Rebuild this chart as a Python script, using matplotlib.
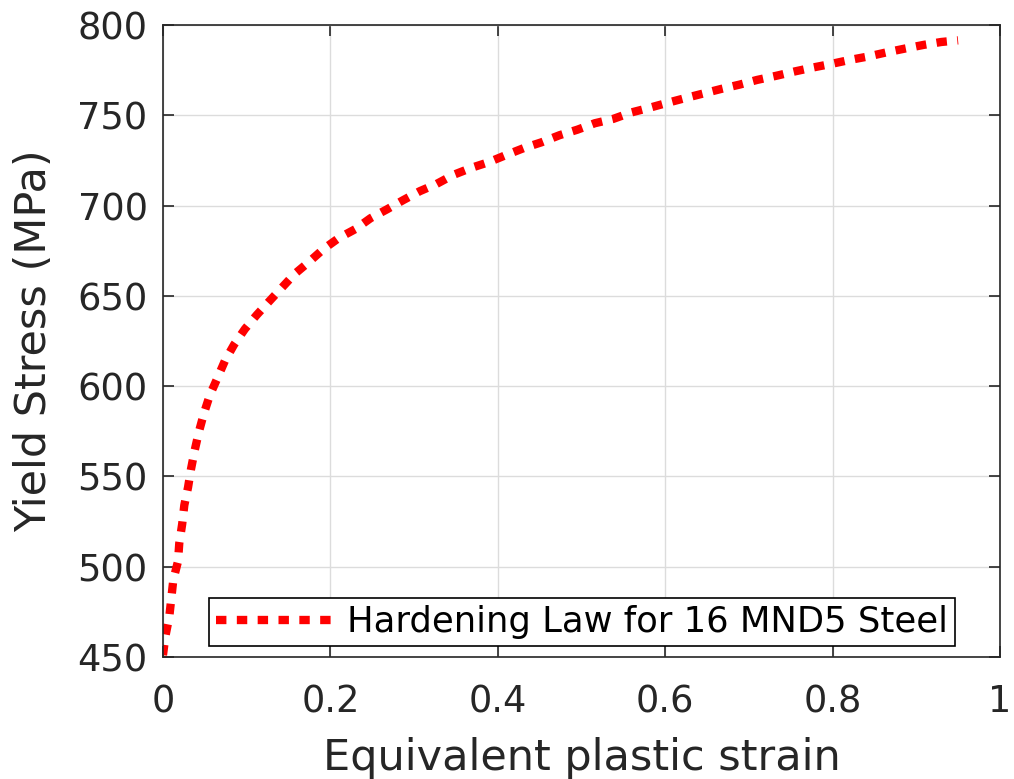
import matplotlib
matplotlib.use('Agg')
import matplotlib.pyplot as plt

# points
strain = [0.0, 0.003, 0.0076, 0.010, 0.0124, 0.018, 0.0195, 0.023, 0.0255, 0.030,
          0.0335, 0.038, 0.043, 0.049, 0.056, 0.065, 0.074, 0.085, 0.098, 0.112,
          0.127, 0.143, 0.157, 0.175, 0.192, 0.21, 0.23, 0.248, 0.268, 0.287,
          0.307, 0.327, 0.347, 0.369, 0.389, 0.41, 0.432, 0.452, 0.474, 0.495,
          0.516, 0.538, 0.559, 0.58, 0.601, 0.623, 0.645, 0.667, 0.689, 0.71,
          0.733, 0.755, 0.777, 0.799, 0.82, 0.843, 0.864, 0.886, 0.909, 0.93, 0.95]
stress = [451, 461.7, 472.4, 482.6, 492.8, 503, 513, 523.7, 534, 544,
          554, 564.6, 574.8, 585, 595, 604.4, 614, 623, 631.7, 639.4,
          647, 655, 662, 669, 676, 682, 687, 693, 698, 703,
          708, 712, 717, 721, 724, 728, 732, 735, 739, 742,
          745.6, 748, 751.5, 754, 756.7, 759.4, 762, 764.6, 767, 769.6,
          771.9, 774.3, 776.5, 778.5, 780.6, 782.6, 784.8, 786.9, 789, 790.6, 791.5]

xticks = [0, 0.2, 0.4, 0.6, 0.8, 1]
xticklabels = ['0', '0.2', '0.4', '0.6', '0.8', '1']
yticks = [450, 500, 550, 600, 650, 700, 750, 800]

txt = '#262626'
plt.rcParams['font.family'] = ['DejaVu Sans']

fig = plt.figure(figsize=(10.14, 7.79), dpi=100)
ax = fig.add_axes([0.1607, 0.1566, 0.8254, 0.8113])

ax.plot(strain, stress, color='red', linewidth=6, linestyle=(0, (1.25, 1.25)),
        dash_capstyle='butt', label='Hardening Law for 16 MND5 Steel')

ax.set_xlim(0, 1)
ax.set_ylim(450, 800)
ax.set_xticks(xticks)
ax.set_xticklabels(xticklabels)
ax.set_yticks(yticks)
ax.grid(True, color='#dcdcdc', linewidth=1)
ax.set_axisbelow(True)
ax.tick_params(direction='in', length=8, width=1.2, top=True, right=True,
               labelsize=26.5, colors=txt, labelcolor=txt)
ax.tick_params(axis='x', pad=19)
ax.tick_params(axis='y', pad=11)
for s in ax.spines.values():
    s.set_color(txt)
    s.set_linewidth(1.2)

ax.set_xlabel('Equivalent plastic strain', fontsize=31, color=txt, labelpad=12)
ax.set_ylabel('Yield Stress (MPa)', fontsize=31, color=txt, labelpad=16)

leg = ax.legend(loc='lower left', bbox_to_anchor=(0.055, 0.0174),
                fontsize=25.5, handlelength=3.33, handletextpad=0.37,
                fancybox=False, framealpha=1, borderpad=0.2, borderaxespad=0)
leg.get_frame().set_edgecolor('black')
leg.get_frame().set_linewidth(1.2)

fig.savefig('out.png', dpi=100)
